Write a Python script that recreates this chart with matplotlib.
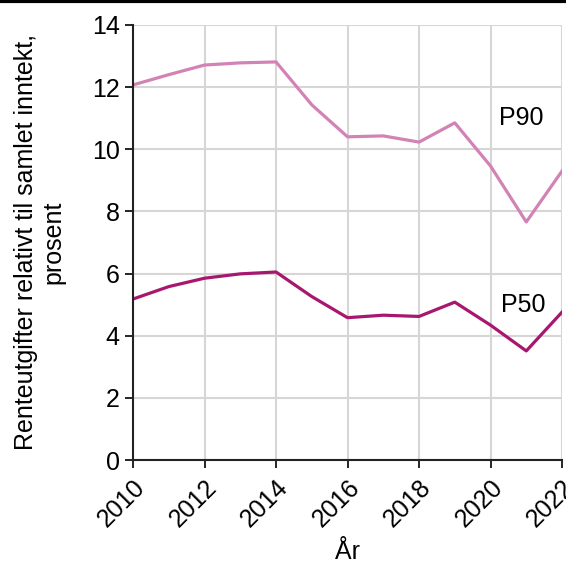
import matplotlib.pyplot as plt
import matplotlib.lines as mlines
import numpy as np

plt.rcParams['font.family'] = ['Liberation Sans', 'DejaVu Sans']

years = [2010, 2011, 2012, 2013, 2014, 2015, 2016, 2017, 2018, 2019, 2020, 2021, 2022]
p90 = [12.07, 12.4, 12.71, 12.78, 12.81, 11.43, 10.40, 10.43, 10.23, 10.85, 9.46, 7.66, 9.30]
p50 = [5.18, 5.58, 5.85, 5.99, 6.05, 5.26, 4.58, 4.66, 4.62, 5.08, 4.34, 3.51, 4.76]

fig = plt.figure(figsize=(5.66, 5.67), dpi=100)
ax = fig.add_axes([0.235, 0.1887, 0.758, 0.7673])

# gridlines first, so the series sit on top
ax.grid(True, color='#d6d6d6', linewidth=1.5)
ax.set_axisbelow(True)

ax.plot(years, p90, color='#d382b5', linewidth=2.3)
ax.plot(years, p50, color='#a8176f', linewidth=2.3)

ax.text(2020.25, 11.0, 'P90', fontsize=18, va='center')
ax.text(2020.3, 5.0, 'P50', fontsize=18, va='center')

ax.set_xlim(2010, 2022)
ax.set_ylim(0, 14)
ax.set_xticks(np.arange(2010, 2023, 2))
ax.set_yticks(np.arange(0, 15, 2))
ax.tick_params(labelsize=18, length=6, width=1.2, colors='black')
ax.tick_params(axis='x', pad=5)
plt.setp(ax.get_xticklabels(), rotation=45, ha='right', rotation_mode='anchor')

for side in ['top', 'right']:
    ax.spines[side].set_visible(False)
for side in ['left', 'bottom']:
    ax.spines[side].set_linewidth(1.5)
    ax.spines[side].set_color('#222222')

ax.set_xlabel('År', fontsize=18, va='center')
ax.xaxis.set_label_coords(0.5, -0.212)
ax.set_ylabel('Renteutgifter relativt til samlet inntekt,\nprosent', fontsize=18, va='center')
ax.yaxis.set_label_coords(-0.217, 0.5)

# black rule along the top of the figure
fig.add_artist(mlines.Line2D([0, 1], [0.998, 0.998], color='black', linewidth=3,
                             transform=fig.transFigure))

fig.savefig('out.png', dpi=100)
